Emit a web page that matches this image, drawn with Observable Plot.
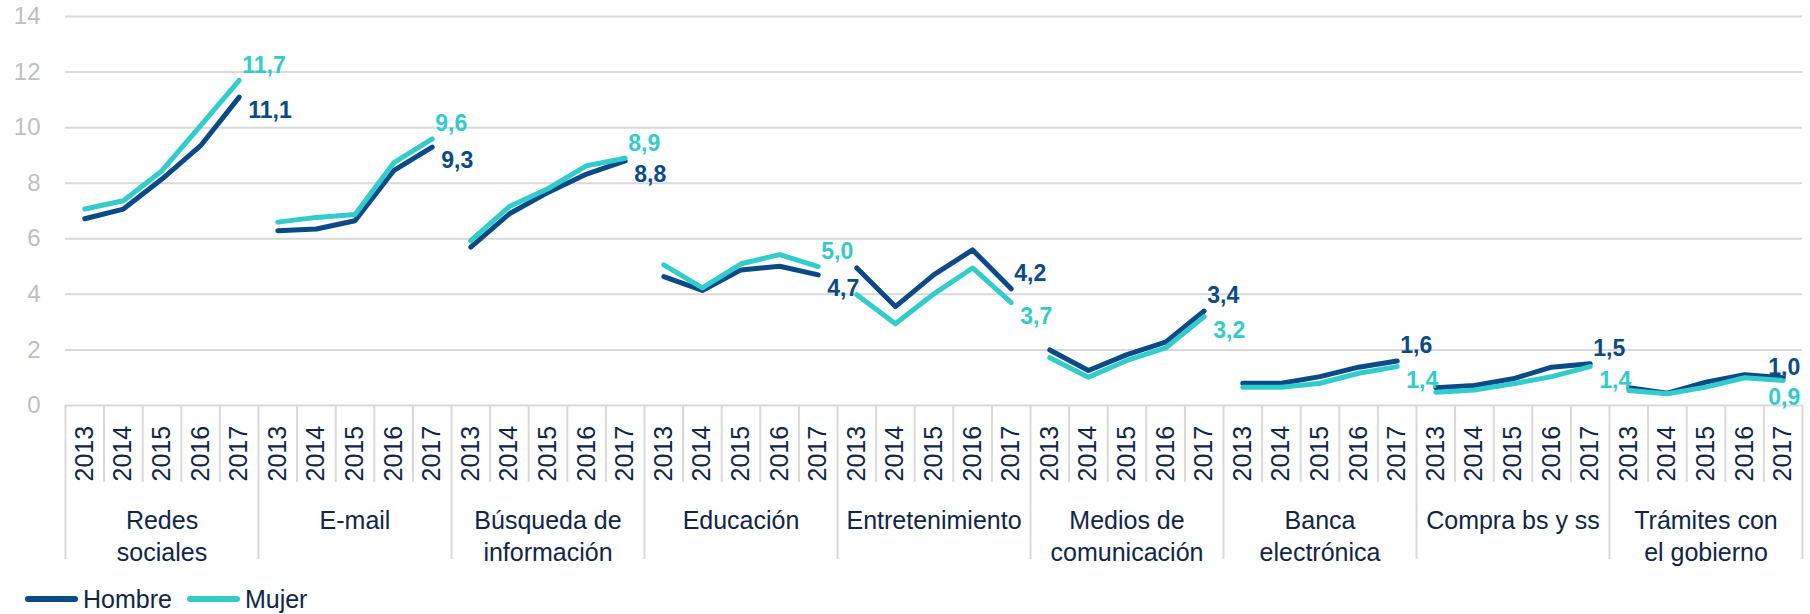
<!DOCTYPE html>
<html>
<head>
<meta charset="utf-8">
<script src="https://cdn.jsdelivr.net/npm/d3@7"></script>
<script src="https://cdn.jsdelivr.net/npm/@observablehq/plot@0.6"></script>
<style>
  html, body { margin: 0; padding: 0; background: #fff; }
  body { width: 1810px; height: 614px; overflow: hidden; font-family: "Liberation Sans", Arial, sans-serif; }
  #chart svg { display: block; }
  #legend { height: 48px; display: flex; align-items: center; padding-left: 25px; font-size: 25px; color: #112546; }
  #legend .item { display: flex; align-items: center; margin-right: 15px; }
  #legend .sw { width: 53px; height: 6px; border-radius: 3px; margin-right: 5px; }
</style>
</head>
<body>
<div id="chart"></div>
<div id="legend"></div>
<script>
const categories = ["Redes\nsociales", "E-mail", "Búsqueda de\ninformación", "Educación", "Entretenimiento",
  "Medios de\ncomunicación", "Banca\nelectrónica", "Compra bs y ss", "Trámites con\nel gobierno"];
const years = ["2013", "2014", "2015", "2016", "2017"];
const hombre = [
  [6.72, 7.07, 8.15, 9.35, 11.1],
  [6.29, 6.35, 6.65, 8.45, 9.3],
  [5.7, 6.9, 7.67, 8.33, 8.8],
  [4.64, 4.14, 4.88, 5.01, 4.7],
  [4.95, 3.56, 4.71, 5.6, 4.2],
  [2.0, 1.26, 1.83, 2.28, 3.4],
  [0.8, 0.8, 1.04, 1.38, 1.6],
  [0.64, 0.72, 0.96, 1.38, 1.5],
  [0.64, 0.44, 0.84, 1.11, 1.0]
];
const mujer = [
  [7.07, 7.37, 8.45, 10.07, 11.7],
  [6.6, 6.77, 6.87, 8.73, 9.6],
  [5.93, 7.16, 7.8, 8.63, 8.9],
  [5.06, 4.23, 5.1, 5.43, 5.0],
  [3.99, 2.94, 4.02, 4.95, 3.7],
  [1.72, 1.02, 1.62, 2.07, 3.2],
  [0.66, 0.66, 0.8, 1.16, 1.4],
  [0.48, 0.56, 0.78, 1.04, 1.4],
  [0.54, 0.42, 0.66, 1.0, 0.9]
];
const seriesNames = ["Hombre", "Mujer"];
const yTicks = [0, 2, 4, 6, 8, 10, 12, 14];

const colors = {Hombre: "#0A4A86", Mujer: "#33CCCC"};
const textColor = "#112546";
const gridColor = "#d9d9d9";
const fontStack = "'Liberation Sans', Arial, sans-serif";

const nY = years.length;
const nSlots = categories.length * nY;

const rows = [];
categories.forEach((c, g) => {
  years.forEach((y, j) => {
    rows.push({series: "Hombre", cat: g, year: y, i: g * nY + j, value: hombre[g][j]});
    rows.push({series: "Mujer", cat: g, year: y, i: g * nY + j, value: mujer[g][j]});
  });
});
const yearRows = [];
categories.forEach((c, g) => years.forEach((y, j) => yearRows.push({i: g * nY + j, year: y})));
const catRows = categories.map((c, g) => ({g, label: c}));

const labels = [];
categories.forEach((c, g) => {
  const h = hombre[g][nY - 1], m = mujer[g][nY - 1];
  const hiIsM = m >= h;
  const last = g === categories.length - 1;
  labels.push({series: "Hombre", i: g * nY + nY - 1, value: h, hi: !hiIsM, last});
  labels.push({series: "Mujer", i: g * nY + nY - 1, value: m, hi: hiIsM, last});
});
const fmt = v => d3.format(".1f")(v).replace(".", ",");

const W = 1810, H = 575, mTop = 16, yBase = 405;
const frameH = yBase - mTop;

const lineMark = s => Plot.line(rows.filter(d => d.series === s), {
  x: d => d.i + 0.5, y: "value", z: "cat", stroke: colors[s], strokeWidth: 5,
  strokeLinecap: "round", strokeLinejoin: "round"
});
const labelMark = (filter, opts) => Plot.text(labels.filter(filter), {
  x: d => d.i + 0.5, y: "value", text: d => fmt(d.value),
  fill: d => colors[d.series], fontWeight: "bold", fontSize: 23, ...opts
});

const plot = Plot.plot({
  width: W, height: H,
  marginLeft: 65, marginRight: 8, marginTop: mTop, marginBottom: H - yBase,
  style: {fontFamily: fontStack, background: "#fff", overflow: "visible"},
  x: {type: "linear", domain: [0, nSlots], axis: null},
  y: {domain: [0, 14], axis: null},
  color: {type: "identity"},
  marks: [
    Plot.gridY(yTicks.filter(t => t > 0), {stroke: gridColor, strokeOpacity: 1, strokeWidth: 2}),
    Plot.axisY(yTicks, {tickSize: 0, tickPadding: 25, fontSize: 24, fill: "#bfbfbf", textAnchor: "end", label: null}),
    Plot.ruleY([0], {stroke: gridColor, strokeWidth: 2}),
    Plot.ruleX(d3.range(nSlots + 1).filter(k => k % nY !== 0), {x: d => d, stroke: gridColor, strokeWidth: 2, insetTop: frameH, insetBottom: -77}),
    Plot.ruleX(d3.range(0, nSlots + 1, nY), {x: d => d, stroke: gridColor, strokeWidth: 2, insetTop: frameH, insetBottom: -154}),
    Plot.text(yearRows, {x: d => d.i + 0.5, text: "year", frameAnchor: "bottom", rotate: -90,
      textAnchor: "start", lineAnchor: "middle", dy: 76, fontSize: 25, fill: textColor}),
    Plot.text(catRows, {x: d => d.g * nY + nY / 2, text: "label", frameAnchor: "bottom",
      lineAnchor: "top", dy: 101, lineHeight: 1.27, fontSize: 25, fill: textColor}),
    lineMark("Hombre"),
    lineMark("Mujer"),
    labelMark(d => d.hi && !d.last, {textAnchor: "start", dx: 3, dy: -15}),
    labelMark(d => !d.hi && !d.last, {textAnchor: "start", dx: 9, dy: 14}),
    labelMark(d => d.hi && d.last, {textAnchor: "end", dx: 17, dy: -10}),
    labelMark(d => !d.hi && d.last, {textAnchor: "end", dx: 17, dy: 17})
  ]
});
document.getElementById("chart").appendChild(plot);

const legend = document.getElementById("legend");
seriesNames.forEach(s => {
  const it = document.createElement("div");
  it.className = "item";
  const sw = document.createElement("span");
  sw.className = "sw";
  sw.style.background = colors[s];
  const tx = document.createElement("span");
  tx.textContent = s;
  it.appendChild(sw); it.appendChild(tx);
  legend.appendChild(it);
});
</script>
</body>
</html>
